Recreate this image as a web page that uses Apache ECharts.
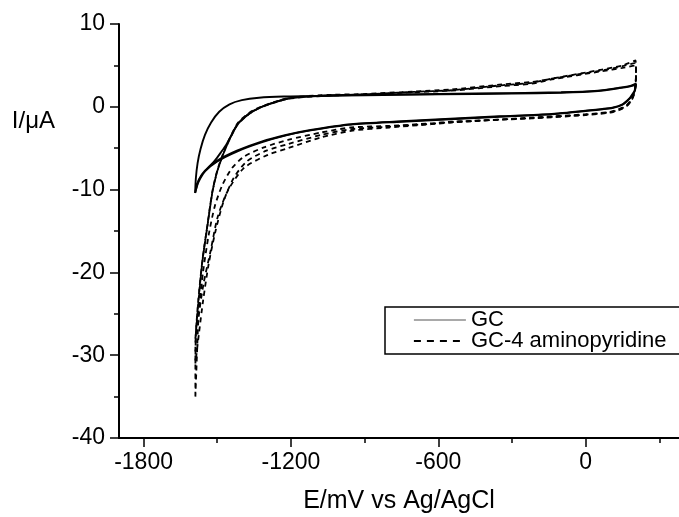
<!DOCTYPE html>
<html><head><meta charset="utf-8">
<script src="https://cdn.jsdelivr.net/npm/echarts@6/dist/echarts.min.js"></script>
<style>html,body{margin:0;padding:0;background:#fff}#c{width:679px;height:517px}</style>
</head><body><div id="c"></div>
<script>
// ---- axis ticks ----
const xLabelValues = [-1800, -1200, -600, 0];
const xMinorValues = [-1500, -900, -300, 300];
const yMin = -40, yMax = 10, yStep = 10;
const xMin = -1900, xMax = 380;

// ---- series names ----
const nameGC = 'GC';
const nameAP = 'GC-4 aminopyridine';

// ---- GC (solid) cycles: [E/mV, I/uA] ----
const gcCycle1 = [[-1590,-10.4],[-1587,-8.6],[-1580,-6.8],[-1568,-5.1],[-1550,-3.4],[-1525,-1.9],[-1492,-0.6],[-1450,0.3],[-1400,0.8],[-1330,1.1],[-1230,1.25],[-1100,1.3],[-900,1.45],[-600,1.55],[-300,1.65],[-100,1.75],[50,1.95],[137,2.3],[185,2.55],[205,2.8],[200,2.0],[190,1.5],[178,1.0],[150,0.3],[109,-0.1],[68,-0.25],[-138,-0.85],[-350,-1.15],[-551,-1.45],[-750,-1.75],[-955,-2.1],[-1120,-2.8],[-1220,-3.4],[-1320,-4.2],[-1420,-5.3],[-1500,-6.5],[-1550,-7.7],[-1575,-8.8],[-1590,-10.4]];
const gcCycle2 = [[-1590,-10.4],[-1578,-9.2],[-1560,-8.2],[-1535,-7.3],[-1510,-6.5],[-1485,-5.5],[-1466,-4.7],[-1440,-3.3],[-1417,-2.1],[-1390,-1.3],[-1364,-0.7],[-1310,0.1],[-1260,0.6],[-1212,1.0],[-1150,1.2],[-1077,1.3],[-900,1.4],[-600,1.5],[-300,1.6],[-100,1.7],[50,1.9],[137,2.25],[185,2.5],[205,2.75],[200,1.9],[190,1.4],[178,0.95],[150,0.25],[109,-0.15],[68,-0.3],[-138,-0.9],[-350,-1.2],[-551,-1.5],[-750,-1.8],[-955,-2.15],[-1120,-2.85],[-1220,-3.45],[-1320,-4.3],[-1420,-5.4],[-1500,-6.6],[-1550,-7.8],[-1575,-8.9],[-1590,-10.3]];

// ---- GC-4 aminopyridine (dashed) cycles ----
const apCycle1 = [[-1589,-35],[-1589,-29],[-1576,-23.5],[-1560,-18.6],[-1539,-14.2],[-1519,-10.2],[-1499,-7.7],[-1466,-5.0],[-1417,-2.1],[-1364,-0.7],[-1310,0.1],[-1212,1.0],[-1077,1.35],[-900,1.5],[-700,1.8],[-546,2.0],[-342,2.6],[-219,2.9],[-138,3.4],[67,4.5],[150,5.0],[203,5.6],[205,4.2],[203,2.8],[198,1.8],[188,1.0],[170,0.3],[140,-0.2],[100,-0.6],[0,-0.9],[-219,-1.3],[-546,-1.9],[-628,-2.1],[-800,-2.5],[-955,-2.9],[-1077,-3.7],[-1212,-5.0],[-1294,-5.8],[-1392,-7.4],[-1458,-10.2],[-1499,-13.4],[-1527,-17.4],[-1556,-21.4],[-1576,-25.5],[-1582,-29.5],[-1589,-35]];
const apCycle2 = [[-1589,-31],[-1587,-27.5],[-1576,-23.3],[-1560,-18.5],[-1539,-14.1],[-1519,-10.1],[-1499,-7.6],[-1466,-4.9],[-1417,-2.0],[-1364,-0.6],[-1310,0.15],[-1212,1.05],[-1077,1.4],[-900,1.55],[-700,1.85],[-546,2.1],[-342,2.7],[-219,3.0],[-138,3.4],[67,4.4],[150,4.9],[203,5.3],[205,4.0],[203,2.7],[198,1.7],[188,0.9],[170,0.2],[140,-0.3],[100,-0.65],[0,-0.95],[-219,-1.35],[-546,-1.85],[-628,-2.05],[-800,-2.4],[-955,-2.7],[-1077,-3.4],[-1212,-4.5],[-1300,-5.3],[-1380,-6.6],[-1433,-8.6],[-1474,-11.4],[-1507,-15.0],[-1535,-19.0],[-1558,-23.5],[-1575,-27.5],[-1589,-31]];
const apCycle3 = [[-1589,-28],[-1578,-23.6],[-1561,-18.7],[-1540,-14.3],[-1520,-10.3],[-1500,-7.8],[-1467,-5.1],[-1418,-2.2],[-1365,-0.75],[-1311,0.05],[-1213,0.95],[-1077,1.3],[-900,1.5],[-700,1.75],[-546,1.95],[-342,2.5],[-219,2.8],[-138,3.3],[67,4.3],[150,4.7],[203,5.0],[205,3.8],[203,2.6],[198,1.6],[188,0.85],[170,0.15],[140,-0.35],[100,-0.7],[0,-1.0],[-219,-1.4],[-546,-1.8],[-628,-2.0],[-800,-2.3],[-955,-2.5],[-1077,-3.1],[-1212,-4.0],[-1310,-4.9],[-1390,-6.0],[-1440,-7.4],[-1480,-9.5],[-1510,-12.0],[-1535,-15.5],[-1558,-20.0],[-1575,-24.5],[-1589,-28]];

const gcCycles = [gcCycle1, gcCycle2];
const apCycles = [apCycle1, apCycle2, apCycle3];

const FONT = 'Liberation Sans, Arial, sans-serif';
const series = [];
gcCycles.forEach(d => series.push({
  name: nameGC, type: 'line', data: d, symbol: 'none', showSymbol: false, smooth: 0.25,
  itemStyle: {color: '#000'},
  lineStyle: {color: '#000', width: 1.9, type: 'solid'}, z: 3
}));
apCycles.forEach(d => series.push({
  name: nameAP, type: 'line', data: d, symbol: 'none', showSymbol: false, smooth: 0.25,
  itemStyle: {color: '#000'},
  lineStyle: {color: '#000', width: 1.8, type: [5, 4]}, z: 2
}));

const chart = echarts.init(document.getElementById('c'), null, {renderer: 'canvas'});
chart.setOption({
  animation: false,
  backgroundColor: '#fff',
  grid: {left: 119, top: 24, right: 0, bottom: 79, containLabel: false, outerBoundsMode: 'none'},
  xAxis: [{
    type: 'value', min: xMin, max: xMax, position: 'bottom',
    name: 'E/mV vs Ag/AgCl', nameLocation: 'middle', nameGap: 51, nameMoveOverlap: false,
    nameTextStyle: {fontFamily: FONT, fontSize: 25, color: '#000'},
    axisLine: {show: true, onZero: false, lineStyle: {color: '#000', width: 2}},
    axisTick: {show: true, inside: false, length: 9, customValues: xLabelValues, lineStyle: {color: '#000', width: 1.5}},
    axisLabel: {show: true, customValues: xLabelValues, margin: 13, fontFamily: FONT, fontSize: 23, color: '#000',
      formatter: v => String(v)},
    splitLine: {show: false}
  }, {
    type: 'value', min: xMin, max: xMax, position: 'top', offset: -414,
    axisLine: {show: false},
    axisTick: {show: true, inside: true, length: 5, customValues: xMinorValues, lineStyle: {color: '#000', width: 1.5}},
    axisLabel: {show: false},
    splitLine: {show: false}
  }],
  yAxis: {
    type: 'value', min: yMin, max: yMax, interval: yStep,
    name: 'I/μA', nameLocation: 'end', nameGap: -97, nameMoveOverlap: false,
    nameTextStyle: {fontFamily: FONT, fontSize: 24, color: '#000', align: 'right', verticalAlign: 'middle', padding: [0, 64, 0, 0]},
    axisLine: {show: true, onZero: false, lineStyle: {color: '#000', width: 2}},
    axisTick: {show: true, inside: false, length: 9, lineStyle: {color: '#000', width: 1.5}},
    minorTick: {show: true, splitNumber: 2, length: 5, lineStyle: {color: '#000', width: 1.5}},
    axisLabel: {margin: 14, fontFamily: FONT, fontSize: 23, color: '#000'},
    splitLine: {show: false}, minorSplitLine: {show: false}
  },
  legend: {
    show: true, orient: 'vertical', left: 413, top: 309, padding: 0,
    itemWidth: 52, itemHeight: 14, itemGap: -1,
    itemStyle: {color: 'rgba(0,0,0,0)', borderWidth: 0, opacity: 0},
    textStyle: {fontFamily: FONT, fontSize: 22, color: '#000'},
    data: [
      {name: nameGC, lineStyle: {width: 1.2, color: '#555'}},
      {name: nameAP, lineStyle: {type: [7, 6], width: 1.8}}
    ]
  },
  graphic: [{
    type: 'rect', shape: {x: 385, y: 307, width: 320, height: 47},
    style: {fill: 'none', stroke: '#000', lineWidth: 1.5}, z: 0
  }],
  series: series
});
</script>
</body></html>
